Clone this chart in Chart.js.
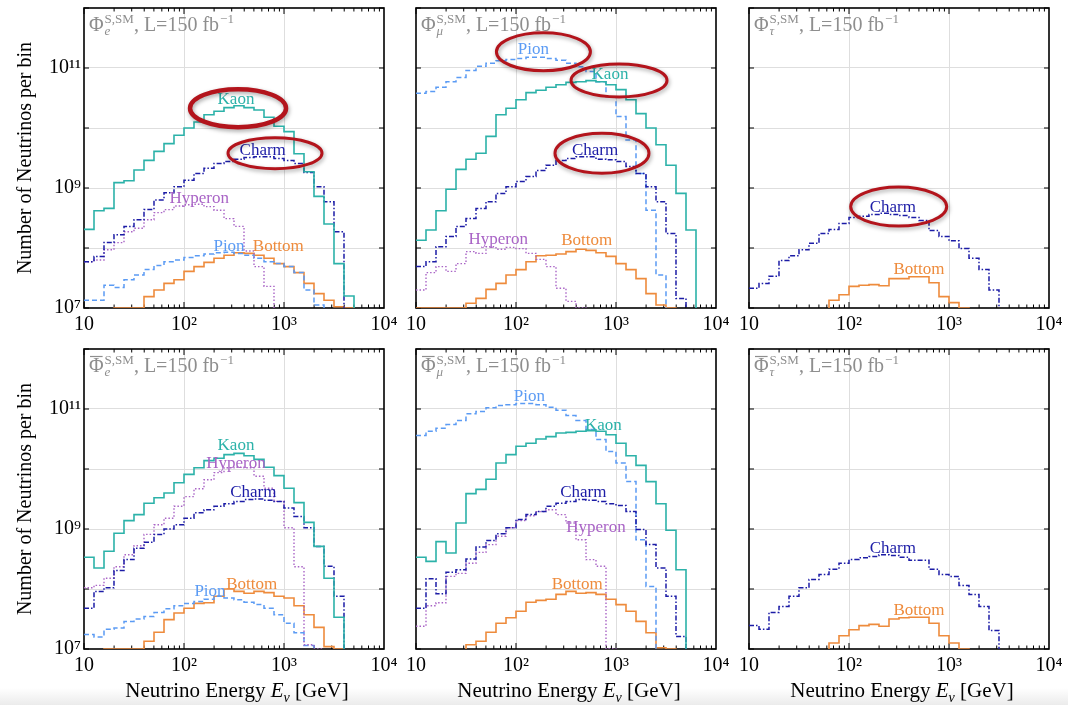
<!DOCTYPE html>
<html>
<head>
<meta charset="utf-8">
<title>Neutrino spectra by parent hadron</title>
<script src="https://cdn.jsdelivr.net/npm/chart.js@4.4.1/dist/chart.umd.min.js"></script>
<style>
  html, body { margin: 0; padding: 0; background: #fff; }
  #page { position: relative; width: 1068px; height: 705px; overflow: hidden;
          background: linear-gradient(to bottom, #fff 0, #fff 688px, #ebebeb 705px); }
  #page canvas { position: absolute; }
</style>
</head>
<body>
<div id="page">
  <canvas id="nue" width="402" height="340" style="left:0;top:0"></canvas>
  <canvas id="numu" width="402" height="340" style="left:332px;top:0"></canvas>
  <canvas id="nutau" width="402" height="340" style="left:665px;top:0"></canvas>
  <canvas id="nuebar" width="402" height="364" style="left:0;top:341px"></canvas>
  <canvas id="numubar" width="402" height="364" style="left:332px;top:341px"></canvas>
  <canvas id="nutaubar" width="402" height="364" style="left:665px;top:341px"></canvas>
</div>
<script>
const _ = null;

// energy bin edges in GeV (10 bins per decade)
const binEdges = [10, 12.59, 15.85, 19.95, 25.12, 31.62, 39.81, 50.12, 63.10, 79.43,
  100, 125.9, 158.5, 199.5, 251.2, 316.2, 398.1, 501.2, 631.0, 794.3,
  1000, 1259, 1585, 1995, 2512, 3162, 3981, 5012, 6310, 7943, 10000];
const xTickValues = [10, 100, 1000, 10000];
const yTickValues = [1e7, 1e8, 1e9, 1e10, 1e11, 1e12];
const yLabelled = [1e7, 1e9, 1e11];

// log10(number of neutrinos per bin), one entry per bin
const nueKaon   = [8.31, 8.62, 8.66, 9.09, 9.12, 9.30, 9.46, 9.61, 9.74, 9.88, 10.00, 10.10, 10.22, 10.28, 10.34, 10.37, 10.34, 10.30, 10.18, 10.03, 9.94, 9.57, 9.27, 8.86, 8.40, 7.74, 7.20, _, _, _];
const nueCharm  = [7.77, 7.86, 8.09, 8.22, 8.36, 8.47, 8.64, 8.80, 8.92, 9.02, 9.13, 9.24, 9.33, 9.41, 9.44, 9.48, 9.51, 9.52, 9.52, 9.49, 9.46, 9.41, 9.26, 9.02, 8.77, 8.27, _, _, _, _];
const nueHyperon= [7.77, 7.80, 7.97, 8.09, 8.27, 8.33, 8.47, 8.59, 8.64, 8.70, 8.72, 8.73, 8.69, 8.63, 8.49, 8.36, 7.95, 7.69, 7.36, _, _, _, _, _, _, _, _, _, _, _];
const nuePion   = [7.13, 7.13, 7.38, 7.34, 7.47, 7.55, 7.64, 7.71, 7.77, 7.80, 7.84, 7.87, 7.90, 7.92, 7.93, 7.91, 7.88, 7.83, 7.77, 7.74, 7.69, 7.59, 7.30, 7.05, _, _, _, _, _, _];
const nueBottom = [_, _, _, 7.00, 7.00, 7.00, 7.19, 7.30, 7.41, 7.47, 7.61, 7.69, 7.76, 7.83, 7.88, 7.92, 7.91, 7.88, 7.83, 7.74, 7.69, 7.59, 7.41, 7.24, 7.13, 7.02, 7.00, _, _, _];

const numuPion   = [10.58, 10.61, 10.68, 10.77, 10.84, 10.96, 11.03, 11.08, 11.12, 11.14, 11.16, 11.18, 11.18, 11.16, 11.13, 11.08, 11.02, 10.94, 10.77, 10.52, 10.19, 9.80, 9.24, 8.63, 7.55, _, _, _, _, _];
const numuKaon   = [8.13, 8.30, 8.62, 8.98, 9.31, 9.48, 9.58, 9.86, 10.22, 10.33, 10.47, 10.59, 10.63, 10.68, 10.72, 10.76, 10.77, 10.79, 10.77, 10.72, 10.64, 10.47, 10.24, 10.00, 9.72, 9.38, 8.91, 8.30, _, _];
const numuCharm  = [7.69, 7.77, 8.02, 8.19, 8.36, 8.49, 8.66, 8.77, 8.91, 9.02, 9.11, 9.19, 9.29, 9.38, 9.46, 9.49, 9.52, 9.52, 9.48, 9.47, 9.44, 9.36, 9.24, 9.02, 8.77, 8.24, 7.16, _, _, _];
const numuHyperon= [7.30, 7.59, 7.69, 7.61, 7.74, 7.94, 7.91, 8.02, 7.98, 8.01, 7.99, 7.91, 7.81, 7.69, 7.33, 7.11, 7.00, _, _, _, _, _, _, _, _, _, _, _, _, _];
const numuBottom = [7.00, 7.00, 7.00, 7.00, 7.00, 7.08, 7.16, 7.31, 7.41, 7.55, 7.64, 7.77, 7.87, 7.88, 7.90, 7.94, 7.98, 7.96, 7.92, 7.86, 7.74, 7.64, 7.49, 7.24, 7.05, 7.00, _, _, _, _];

const nutauCharm  = [7.33, 7.41, 7.53, 7.79, 7.87, 7.97, 8.08, 8.24, 8.31, 8.41, 8.51, 8.53, 8.56, 8.58, 8.56, 8.54, 8.51, 8.46, 8.29, 8.19, 8.12, 7.99, 7.83, 7.64, 7.30, _, _, _, _, _];
const nutauBottom = [_, _, _, _, _, _, _, _, 7.13, 7.22, 7.36, 7.38, 7.39, 7.37, 7.49, 7.49, 7.52, 7.52, 7.42, 7.19, 7.09, 7.00, _, _, _, _, _, _, _, _];

const nuebarKaon   = [8.53, 8.35, 8.63, 8.93, 9.14, 9.24, 9.43, 9.52, 9.60, 9.77, 9.91, 10.02, 10.14, 10.18, 10.24, 10.26, 10.22, 10.16, 10.03, 9.89, 9.68, 9.44, 9.11, 8.71, 8.18, 7.53, _, _, _, _];
const nuebarHyperon= [8.02, 8.06, 8.18, 8.37, 8.57, 8.72, 8.91, 9.07, 9.18, 9.38, 9.54, 9.67, 9.82, 9.94, 10.02, 10.03, 10.02, 9.88, 9.68, 9.46, 9.02, 8.37, 7.07, 7.00, _, _, _, _, _, _];
const nuebarCharm  = [7.68, 7.96, 8.02, 8.31, 8.49, 8.68, 8.78, 8.91, 9.00, 9.07, 9.18, 9.27, 9.32, 9.38, 9.42, 9.46, 9.49, 9.50, 9.48, 9.46, 9.35, 9.21, 9.02, 8.71, 8.38, 7.88, _, _, _, _];
const nuebarPion   = [7.24, 7.20, 7.33, 7.35, 7.46, 7.50, 7.54, 7.61, 7.67, 7.72, 7.76, 7.79, 7.83, 7.88, 7.85, 7.82, 7.78, 7.74, 7.68, 7.57, 7.43, 7.27, 7.06, _, _, _, _, _, _, _];
const nuebarBottom = [_, _, 7.00, 7.00, 7.00, 7.00, 7.13, 7.28, 7.49, 7.60, 7.68, 7.76, 7.77, 7.88, 8.00, 7.96, 7.93, 7.96, 7.94, 7.88, 7.85, 7.72, 7.57, 7.36, 7.04, 7.00, _, _, _, _];

const numubarPion   = [10.56, 10.63, 10.68, 10.74, 10.81, 10.92, 10.96, 11.02, 11.06, 11.07, 11.09, 11.09, 11.07, 11.03, 10.98, 10.89, 10.81, 10.66, 10.49, 10.29, 10.10, 9.79, 8.82, 8.04, _, _, _, _, _, _];
const numubarKaon   = [8.53, 8.46, 8.79, 8.60, 9.10, 9.59, 9.66, 9.83, 10.10, 10.24, 10.38, 10.43, 10.50, 10.54, 10.60, 10.61, 10.63, 10.64, 10.63, 10.57, 10.43, 10.22, 10.06, 9.79, 9.42, 8.98, 8.32, _, _, _];
const numubarCharm  = [7.68, 8.17, 7.92, 8.28, 8.32, 8.50, 8.70, 8.81, 8.92, 9.02, 9.16, 9.24, 9.29, 9.38, 9.43, 9.46, 9.49, 9.48, 9.46, 9.42, 9.39, 9.29, 8.99, 8.74, 8.35, 7.88, 7.21, _, _, _];
const numubarHyperon= [7.38, 7.72, 7.77, 8.21, 8.26, 8.43, 8.61, 8.74, 8.88, 9.02, 9.14, 9.22, 9.29, 9.32, 9.24, 9.10, 8.82, 8.49, 8.38, 7.00, _, _, _, _, _, _, _, _, _, _];
const numubarBottom = [_, _, _, _, _, 7.07, 7.13, 7.28, 7.43, 7.52, 7.63, 7.78, 7.81, 7.83, 7.91, 7.96, 7.93, 7.94, 7.91, 7.83, 7.74, 7.63, 7.46, 7.27, 7.02, 7.00, _, _, _, _];

const nutaubarCharm  = [7.39, 7.33, 7.61, 7.71, 7.88, 8.02, 8.16, 8.24, 8.33, 8.43, 8.49, 8.52, 8.54, 8.57, 8.56, 8.53, 8.48, 8.48, 8.33, 8.24, 8.21, 8.06, 7.91, 7.71, 7.31, _, _, _, _, _];
const nutaubarBottom = [_, _, _, _, _, _, _, _, 7.10, 7.22, 7.32, 7.39, 7.41, 7.38, 7.50, 7.52, 7.53, 7.53, 7.43, 7.22, 7.10, 7.00, _, _, _, _, _, _, _, _];

const sourceStyle = {
  Kaon:    { color: '#2cb2a9', dash: [], width: 1.6 },
  Charm:   { color: '#1c1ca6', dash: [5, 2, 1.5, 2], width: 1.5 },
  Hyperon: { color: '#a964c6', dash: [1.5, 2], width: 1.4 },
  Pion:    { color: '#5b9bf4', dash: [5, 3], width: 1.5 },
  Bottom:  { color: '#ee8b3c', dash: [], width: 1.6 }
};

const panels = [
  { id: 'nue', sub: 'e', bar: false, col: 0, row: 0,
    series: { Kaon: nueKaon, Charm: nueCharm, Hyperon: nueHyperon, Pion: nuePion, Bottom: nueBottom },
    labels: [['Kaon', 331, 2.95e10], ['Charm', 612, 4.27e9], ['Hyperon', 142, 6.6e8], ['Pion', 282, 1.05e8], ['Bottom', 877, 1.05e8]],
    rings: [[347, 2.14e10, 48, 19, 4.5], [813, 3.8e9, 47, 15.5, 3]] },
  { id: 'numu', sub: 'μ', bar: false, col: 1, row: 0,
    series: { Kaon: numuKaon, Charm: numuCharm, Hyperon: numuHyperon, Pion: numuPion, Bottom: numuBottom },
    labels: [['Pion', 149, 2.0e11], ['Kaon', 871, 7.9e10], ['Charm', 617, 4.27e9], ['Hyperon', 66.5, 1.4e8], ['Bottom', 509, 1.32e8]],
    rings: [[188, 1.86e11, 47, 19, 3], [1072, 6.2e10, 48, 16.5, 3], [724, 3.8e9, 47, 20, 3]] },
  { id: 'nutau', sub: 'τ', bar: false, col: 2, row: 0,
    series: { Charm: nutauCharm, Bottom: nutauBottom },
    labels: [['Charm', 274, 4.8e8], ['Bottom', 501, 4.4e7]],
    rings: [[314, 4.9e8, 48, 19.5, 3]] },
  { id: 'nuebar', sub: 'e', bar: true, col: 0, row: 1,
    series: { Kaon: nuebarKaon, Charm: nuebarCharm, Hyperon: nuebarHyperon, Pion: nuebarPion, Bottom: nuebarBottom },
    labels: [['Kaon', 331, 2.45e10], ['Hyperon', 331, 1.23e10], ['Charm', 493, 4.07e9], ['Pion', 182, 9.0e7], ['Bottom', 475, 1.17e8]],
    rings: [] },
  { id: 'numubar', sub: 'μ', bar: true, col: 1, row: 1,
    series: { Kaon: numubarKaon, Charm: numubarCharm, Hyperon: numubarHyperon, Pion: numubarPion, Bottom: numubarBottom },
    labels: [['Pion', 136, 1.62e11], ['Kaon', 747, 5.25e10], ['Charm', 471, 4.07e9], ['Hyperon', 631, 1.07e9], ['Bottom', 410, 1.17e8]],
    rings: [] },
  { id: 'nutaubar', sub: 'τ', bar: true, col: 2, row: 1,
    series: { Charm: nutaubarCharm, Bottom: nutaubarBottom },
    labels: [['Charm', 274, 4.8e8], ['Bottom', 501, 4.4e7]],
    rings: [] }
];

const SERIF = '"Liberation Serif", "DejaVu Serif", serif';
const sup = { 1: '', 2: '²', 3: '³', 4: '⁴', 7: '⁷', 9: '⁹', 11: '¹¹' };

// turn per-bin values into points for a stepped line, dropping below the axis where a series ends
function stepPoints(values) {
  const floor = 1e5;
  const pts = [];
  for (let i = 0; i < values.length; i++) {
    if (values[i] === null) continue;
    if (i > 0 && values[i - 1] === null) pts.push({ x: binEdges[i], y: floor });
    pts.push({ x: binEdges[i], y: Math.pow(10, values[i]) });
    if (i === values.length - 1 || values[i + 1] === null) pts.push({ x: binEdges[i + 1], y: floor });
  }
  return pts;
}

const decorPlugin = {
  id: 'decor',
  beforeDatasetsDraw(chart, args, opts) {
    const { ctx, chartArea: a, scales } = chart;
    ctx.save();
    ctx.strokeStyle = '#000';
    ctx.lineWidth = 1.6;
    ctx.strokeRect(a.left, a.top, a.right - a.left, a.bottom - a.top);
    ctx.lineWidth = 1;
    // inward ticks on x (top and bottom)
    for (let d = 10; d <= 1000; d *= 10) {
      for (let m = 1; m <= 9; m++) {
        const px = scales.x.getPixelForValue(m * d);
        const len = m === 1 ? 6 : 3.5;
        ctx.beginPath();
        ctx.moveTo(px, a.bottom); ctx.lineTo(px, a.bottom - len);
        ctx.moveTo(px, a.top); ctx.lineTo(px, a.top + len);
        ctx.stroke();
      }
    }
    // inward ticks on y (left and right)
    yTickValues.forEach(v => {
      const py = scales.y.getPixelForValue(v);
      ctx.beginPath();
      ctx.moveTo(a.left, py); ctx.lineTo(a.left + 5, py);
      ctx.moveTo(a.right, py); ctx.lineTo(a.right - 5, py);
      ctx.stroke();
    });
    ctx.restore();
  },
  afterDatasetsDraw(chart, args, opts) {
    const { ctx, chartArea: a, scales } = chart;
    const p = opts.panel;
    ctx.save();
    // panel title
    const gray = '#8e8e8e';
    ctx.fillStyle = gray;
    ctx.textBaseline = 'alphabetic';
    let x = a.left + 5;
    const y = a.top + 23;
    ctx.font = '20px ' + SERIF;
    ctx.fillText('Φ', x, y);
    const wPhi = ctx.measureText('Φ').width;
    if (p.bar) {
      ctx.strokeStyle = gray;
      ctx.lineWidth = 1.2;
      ctx.beginPath();
      ctx.moveTo(x + 1, y - 15.5); ctx.lineTo(x + wPhi - 1, y - 15.5);
      ctx.stroke();
    }
    x += wPhi + 1;
    ctx.font = '13px ' + SERIF;
    ctx.fillText('S,SM', x, y - 8);
    const wSup = ctx.measureText('S,SM').width;
    ctx.font = 'italic 13px ' + SERIF;
    ctx.fillText(p.sub, x, y + 4);
    x += wSup;
    ctx.font = '20px ' + SERIF;
    ctx.fillText(', L=150 fb', x, y);
    x += ctx.measureText(', L=150 fb').width + 1;
    ctx.font = '13px ' + SERIF;
    ctx.fillText('−1', x, y - 8);

    // series labels
    ctx.font = '17px ' + SERIF;
    ctx.textAlign = 'center';
    ctx.textBaseline = 'middle';
    p.labels.forEach(([name, ex, ny]) => {
      ctx.fillStyle = sourceStyle[name].color;
      ctx.fillText(name, scales.x.getPixelForValue(ex), scales.y.getPixelForValue(ny));
    });

    // highlight rings
    p.rings.forEach(([ex, ny, rx, ry, w]) => {
      ctx.save();
      ctx.strokeStyle = '#b3141c';
      ctx.lineWidth = w;
      ctx.shadowColor = 'rgba(0,0,0,0.35)';
      ctx.shadowBlur = 4;
      ctx.shadowOffsetX = 1;
      ctx.shadowOffsetY = 2;
      ctx.beginPath();
      ctx.ellipse(scales.x.getPixelForValue(ex), scales.y.getPixelForValue(ny), rx, ry, 0, 0, Math.PI * 2);
      ctx.stroke();
      ctx.restore();
    });

    // x axis title on the bottom row
    if (p.row === 1) {
      ctx.fillStyle = '#000';
      ctx.textAlign = 'left';
      ctx.textBaseline = 'alphabetic';
      const parts = [['Neutrino Energy ', '21px ', 0], ['E', 'italic 21px ', 0], ['ν', 'italic 14px ', 5], [' [GeV]', '21px ', 0]];
      let total = 0;
      parts.forEach(pt => { ctx.font = pt[1] + SERIF; total += ctx.measureText(pt[0]).width; });
      let tx = (a.left + a.right) / 2 - total / 2 + 3;
      const ty = a.bottom + 48;
      parts.forEach(pt => {
        ctx.font = pt[1] + SERIF;
        ctx.fillText(pt[0], tx, ty + pt[2]);
        tx += ctx.measureText(pt[0]).width;
      });
    }
    ctx.restore();
  }
};

panels.forEach(p => {
  const datasets = Object.keys(p.series).map(name => ({
    label: name,
    data: stepPoints(p.series[name]),
    stepped: true,
    borderColor: sourceStyle[name].color,
    borderDash: sourceStyle[name].dash,
    borderWidth: sourceStyle[name].width,
    pointRadius: 0,
    fill: false
  }));
  const firstCol = p.col === 0;
  new Chart(document.getElementById(p.id), {
    type: 'line',
    data: { datasets },
    plugins: [decorPlugin],
    options: {
      responsive: false,
      animation: false,
      events: [],
      layout: { padding: { top: 8, right: 18, bottom: 0, left: 0 } },
      plugins: {
        legend: { display: false },
        tooltip: { enabled: false },
        decor: { panel: p }
      },
      scales: {
        x: {
          type: 'logarithmic',
          min: 10,
          max: 10000,
          afterBuildTicks: s => { s.ticks = xTickValues.map(v => ({ value: v })); },
          afterFit: s => { s.height = p.row === 0 ? 32 : 56; s.paddingLeft = 0; s.paddingRight = 0; },
          border: { display: false },
          grid: {
            drawTicks: false,
            color: c => (c.tick && (c.tick.value === 100 || c.tick.value === 1000)) ? '#dedede' : 'rgba(0,0,0,0)'
          },
          ticks: {
            autoSkip: false, maxRotation: 0, minRotation: 0, padding: 5,
            color: '#000',
            font: { family: SERIF, size: 20 },
            callback: v => '10' + sup[Math.round(Math.log10(v))]
          }
        },
        y: {
          type: 'logarithmic',
          min: 1e7,
          max: 1e12,
          afterBuildTicks: s => { s.ticks = yTickValues.map(v => ({ value: v })); },
          afterFit: s => { s.width = 84; s.paddingTop = 0; s.paddingBottom = 0; },
          border: { display: false },
          grid: {
            drawTicks: false,
            color: c => (c.tick && c.tick.value > 1e7 && c.tick.value < 1e12) ? '#dedede' : 'rgba(0,0,0,0)'
          },
          title: {
            display: firstCol,
            text: 'Number of Neutrinos per bin',
            color: '#000',
            font: { family: SERIF, size: 20 },
            padding: { top: 14, bottom: 0 }
          },
          ticks: {
            autoSkip: false, padding: 3,
            color: '#000',
            font: { family: SERIF, size: 20 },
            callback: v => {
              if (!firstCol) return '';
              const e = Math.round(Math.log10(v));
              return yLabelled.includes(Math.pow(10, e)) ? '10' + sup[e] : '';
            }
          }
        }
      }
    }
  });
});
</script>
</body>
</html>
